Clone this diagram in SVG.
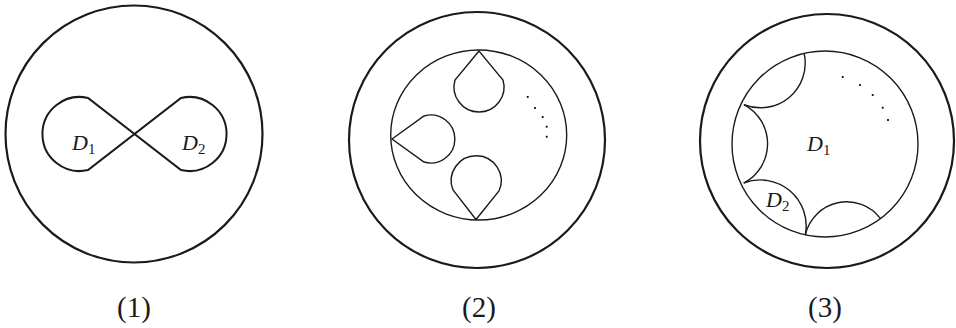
<svg xmlns="http://www.w3.org/2000/svg" width="956" height="328" viewBox="0 0 956 328">
<style>
.outer{fill:none;stroke:#1a1a1a;stroke-width:2.2}
.thick{fill:none;stroke:#1a1a1a;stroke-width:2}
.thin{fill:none;stroke:#1a1a1a;stroke-width:1.4}
.lab{font-family:"Liberation Serif",serif;font-style:italic;font-size:22px;fill:#1a1a1a}
.sub{font-style:normal;font-size:15px}
.cap{font-family:"Liberation Serif",serif;font-size:29px;fill:#1a1a1a;text-anchor:middle}
.dot{fill:#000}
</style>
<g id="panel1">
  <circle class="outer" cx="134" cy="134" r="128.5"/>
  <path class="thick" d="M 88 98 A 37 37 0 1 0 88 170 L 181 98 A 37 37 0 1 1 181 170 Z"/>
  <text class="lab" x="72" y="150">D<tspan class="sub" dy="4">1</tspan></text>
  <text class="lab" x="182" y="150">D<tspan class="sub" dy="4">2</tspan></text>
  <text class="cap" x="134" y="317">(1)</text>
</g>
<g id="panel2">
  <circle class="outer" cx="477" cy="140" r="128"/>
  <ellipse class="thin" cx="478.7" cy="135" rx="88" ry="85"/>
  <path class="thin" d="M 479 51 L 455 80 A 25 25 0 1 0 503 80 Z"/>
  <path class="thin" d="M 392 139 L 424 116 A 24 24 0 1 1 424 162 Z"/>
  <path class="thin" d="M 476 219.5 L 453 190 A 25 25 0 1 1 499 191 Z"/>
  <rect class="dot" x="526.8" y="96" width="1.8" height="1.8"/>
  <rect class="dot" x="534.1" y="107.1" width="1.8" height="1.8"/>
  <rect class="dot" x="541.8" y="116.1" width="1.8" height="1.8"/>
  <rect class="dot" x="545.8" y="125.8" width="1.8" height="1.8"/>
  <rect class="dot" x="545.8" y="135.8" width="1.8" height="1.8"/>
  <text class="cap" x="479" y="317">(2)</text>
</g>
<g id="panel3">
  <circle class="outer" cx="827" cy="141" r="127"/>
  <circle class="thin" cx="825" cy="144" r="93"/>
  <path class="thin" d="M 804.3 54.2 A 44.7 44.7 0 0 1 743.9 104.6"/>
  <path class="thin" d="M 743.9 104.6 A 44.2 44.2 0 0 1 743.7 183"/>
  <path class="thin" d="M 743.7 183 A 46 46 0 0 1 805.3 235"/>
  <path class="thin" d="M 805.3 235 A 42.4 42.4 0 0 1 880.5 218.6"/>
  <rect class="dot" x="841.8" y="76.1" width="1.8" height="1.8"/>
  <rect class="dot" x="859.1" y="84.1" width="1.8" height="1.8"/>
  <rect class="dot" x="871.8" y="94.1" width="1.8" height="1.8"/>
  <rect class="dot" x="881.8" y="106.8" width="1.8" height="1.8"/>
  <rect class="dot" x="887.1" y="119.1" width="1.8" height="1.8"/>
  <text class="lab" x="807" y="151">D<tspan class="sub" dy="4">1</tspan></text>
  <text class="lab" x="766" y="207">D<tspan class="sub" dy="4">2</tspan></text>
  <text class="cap" x="825" y="317">(3)</text>
</g>
</svg>
